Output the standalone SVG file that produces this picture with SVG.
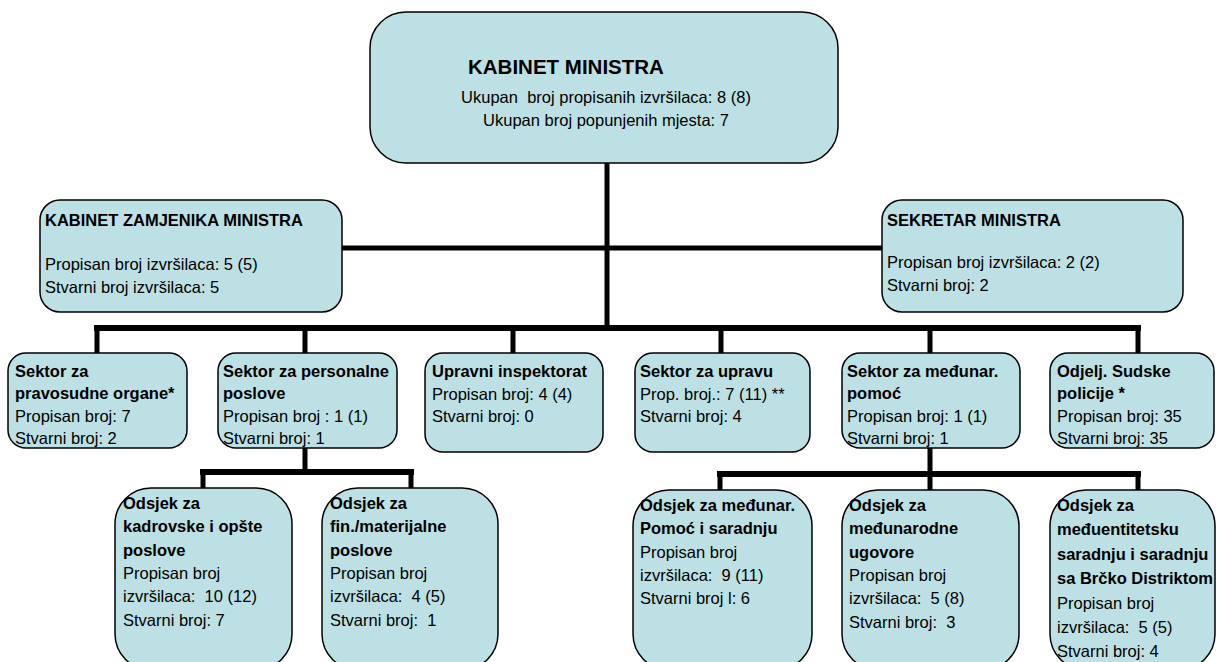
<svg xmlns="http://www.w3.org/2000/svg" width="1217" height="662" viewBox="0 0 1217 662">
<style>
.box{fill:#bce0e3;stroke:#000;stroke-width:1.5}
text{font-family:"Liberation Sans",Arial,sans-serif;font-size:16.5px;fill:#000}
.b{font-weight:bold}
.t{font-weight:bold;font-size:20.5px}
.ln{stroke:#000;stroke-width:5;fill:none}
.bus{stroke:#000;stroke-width:6;fill:none}
</style>
<rect width="1217" height="662" fill="#fff"/>
<g id="connectors">
<line class="ln" x1="607" y1="162" x2="607" y2="330"/>
<line class="ln" x1="342" y1="248" x2="882" y2="248"/>
<line class="bus" x1="94" y1="328" x2="1141" y2="328"/>
<line class="ln" x1="97" y1="328" x2="97" y2="353"/>
<line class="ln" x1="305" y1="328" x2="305" y2="353"/>
<line class="ln" x1="513" y1="328" x2="513" y2="353"/>
<line class="ln" x1="721" y1="328" x2="721" y2="353"/>
<line class="ln" x1="930" y1="328" x2="930" y2="353"/>
<line class="ln" x1="1138" y1="328" x2="1138" y2="353"/>
<line class="ln" x1="305" y1="447" x2="305" y2="472"/>
<line class="bus" x1="200" y1="472" x2="414" y2="472"/>
<line class="ln" x1="203" y1="472" x2="203" y2="489"/>
<line class="ln" x1="411" y1="472" x2="411" y2="489"/>
<line class="ln" x1="930" y1="447" x2="930" y2="474"/>
<line class="bus" x1="717" y1="474" x2="1141" y2="474"/>
<line class="ln" x1="720" y1="474" x2="720" y2="490"/>
<line class="ln" x1="930" y1="474" x2="930" y2="490"/>
<line class="ln" x1="1138" y1="474" x2="1138" y2="490"/>
</g>
<g id="kabinet-ministra">
<rect class="box" x="370" y="12" width="468" height="151" rx="36"/>
<text class="t" x="468" y="74">KABINET MINISTRA</text>
<text x="606" y="103" text-anchor="middle" xml:space="preserve">Ukupan  broj propisanih izvršilaca: 8 (8)</text>
<text x="606" y="126" text-anchor="middle">Ukupan broj popunjenih mjesta: 7</text>
</g>
<g id="kabinet-zamjenika">
<rect class="box" x="40" y="200" width="302" height="112" rx="20"/>
<text class="b" x="45" y="226">KABINET ZAMJENIKA MINISTRA</text>
<text x="45" y="270">Propisan broj izvršilaca: 5 (5)</text>
<text x="45" y="293">Stvarni broj izvršilaca: 5</text>
</g>
<g id="sekretar">
<rect class="box" x="882" y="200" width="301" height="112" rx="20"/>
<text class="b" x="887" y="226">SEKRETAR MINISTRA</text>
<text x="887" y="268">Propisan broj izvršilaca: 2 (2)</text>
<text x="887" y="291">Stvarni broj: 2</text>
</g>
<g id="sektor-pravosudne">
<rect class="box" x="8" y="353" width="179" height="95" rx="18"/>
<text class="b" x="15" y="377">Sektor za</text>
<text class="b" x="15" y="399">pravosudne organe*</text>
<text x="15" y="422">Propisan broj: 7</text>
<text x="15" y="444">Stvarni broj: 2</text>
</g>
<g id="sektor-personalne">
<rect class="box" x="218" y="353" width="179" height="95" rx="18"/>
<text class="b" x="223" y="377">Sektor za personalne</text>
<text class="b" x="223" y="399">poslove</text>
<text x="223" y="422">Propisan broj : 1 (1)</text>
<text x="223" y="444">Stvarni broj: 1</text>
</g>
<g id="upravni-inspektorat">
<rect class="box" x="425" y="353" width="178" height="99" rx="18"/>
<text class="b" x="432" y="377">Upravni inspektorat</text>
<text x="432" y="400">Propisan broj: 4 (4)</text>
<text x="432" y="422">Stvarni broj: 0</text>
</g>
<g id="sektor-upravu">
<rect class="box" x="635" y="353" width="175" height="99" rx="18"/>
<text class="b" x="640" y="377">Sektor za upravu</text>
<text x="640" y="400">Prop. broj.: 7 (11) **</text>
<text x="640" y="422">Stvarni broj: 4</text>
</g>
<g id="sektor-medjunar">
<rect class="box" x="842" y="353" width="178" height="95" rx="18"/>
<text class="b" x="847" y="377">Sektor za međunar.</text>
<text class="b" x="847" y="399">pomoć</text>
<text x="847" y="422">Propisan broj: 1 (1)</text>
<text x="847" y="444">Stvarni broj: 1</text>
</g>
<g id="odjelj-sudske-policije">
<rect class="box" x="1050" y="353" width="164" height="95" rx="18"/>
<text class="b" x="1057" y="377">Odjelj. Sudske</text>
<text class="b" x="1057" y="399">policije *</text>
<text x="1057" y="422">Propisan broj: 35</text>
<text x="1057" y="444">Stvarni broj: 35</text>
</g>
<g id="odsjek-kadrovske">
<rect class="box" x="115" y="488" width="177" height="182" rx="36"/>
<text class="b" x="123" y="509">Odsjek za</text>
<text class="b" x="123" y="532">kadrovske i opšte</text>
<text class="b" x="123" y="556">poslove</text>
<text x="123" y="579">Propisan broj</text>
<text x="123" y="602" xml:space="preserve">izvršilaca:  10 (12)</text>
<text x="123" y="626">Stvarni broj: 7</text>
</g>
<g id="odsjek-fin">
<rect class="box" x="322" y="488" width="176" height="182" rx="36"/>
<text class="b" x="330" y="509">Odsjek za</text>
<text class="b" x="330" y="532">fin./materijalne</text>
<text class="b" x="330" y="556">poslove</text>
<text x="330" y="579">Propisan broj</text>
<text x="330" y="602" xml:space="preserve">izvršilaca:  4 (5)</text>
<text x="330" y="626" xml:space="preserve">Stvarni broj:  1</text>
</g>
<g id="odsjek-medjunar-pomoc">
<rect class="box" x="633" y="490" width="179" height="180" rx="36"/>
<text class="b" x="640" y="511">Odsjek za međunar.</text>
<text class="b" x="640" y="534">Pomoć i saradnju</text>
<text x="640" y="558">Propisan broj</text>
<text x="640" y="581" xml:space="preserve">izvršilaca:  9 (11)</text>
<text x="640" y="604">Stvarni broj l: 6</text>
</g>
<g id="odsjek-ugovore">
<rect class="box" x="842" y="490" width="177" height="180" rx="36"/>
<text class="b" x="849" y="511">Odsjek za</text>
<text class="b" x="849" y="534">međunarodne</text>
<text class="b" x="849" y="558">ugovore</text>
<text x="849" y="581">Propisan broj</text>
<text x="849" y="604" xml:space="preserve">izvršilaca:  5 (8)</text>
<text x="849" y="628" xml:space="preserve">Stvarni broj:  3</text>
</g>
<g id="odsjek-medjuentitetsku">
<rect class="box" x="1050" y="490" width="165" height="180" rx="36"/>
<text class="b" x="1057" y="511">Odsjek za</text>
<text class="b" x="1057" y="535">međuentitetsku</text>
<text class="b" x="1057" y="560">saradnju i saradnju</text>
<text class="b" x="1057" y="584">sa Brčko Distriktom</text>
<text x="1057" y="609">Propisan broj</text>
<text x="1057" y="633" xml:space="preserve">izvršilaca:  5 (5)</text>
<text x="1057" y="657">Stvarni broj: 4</text>
</g>
</svg>
